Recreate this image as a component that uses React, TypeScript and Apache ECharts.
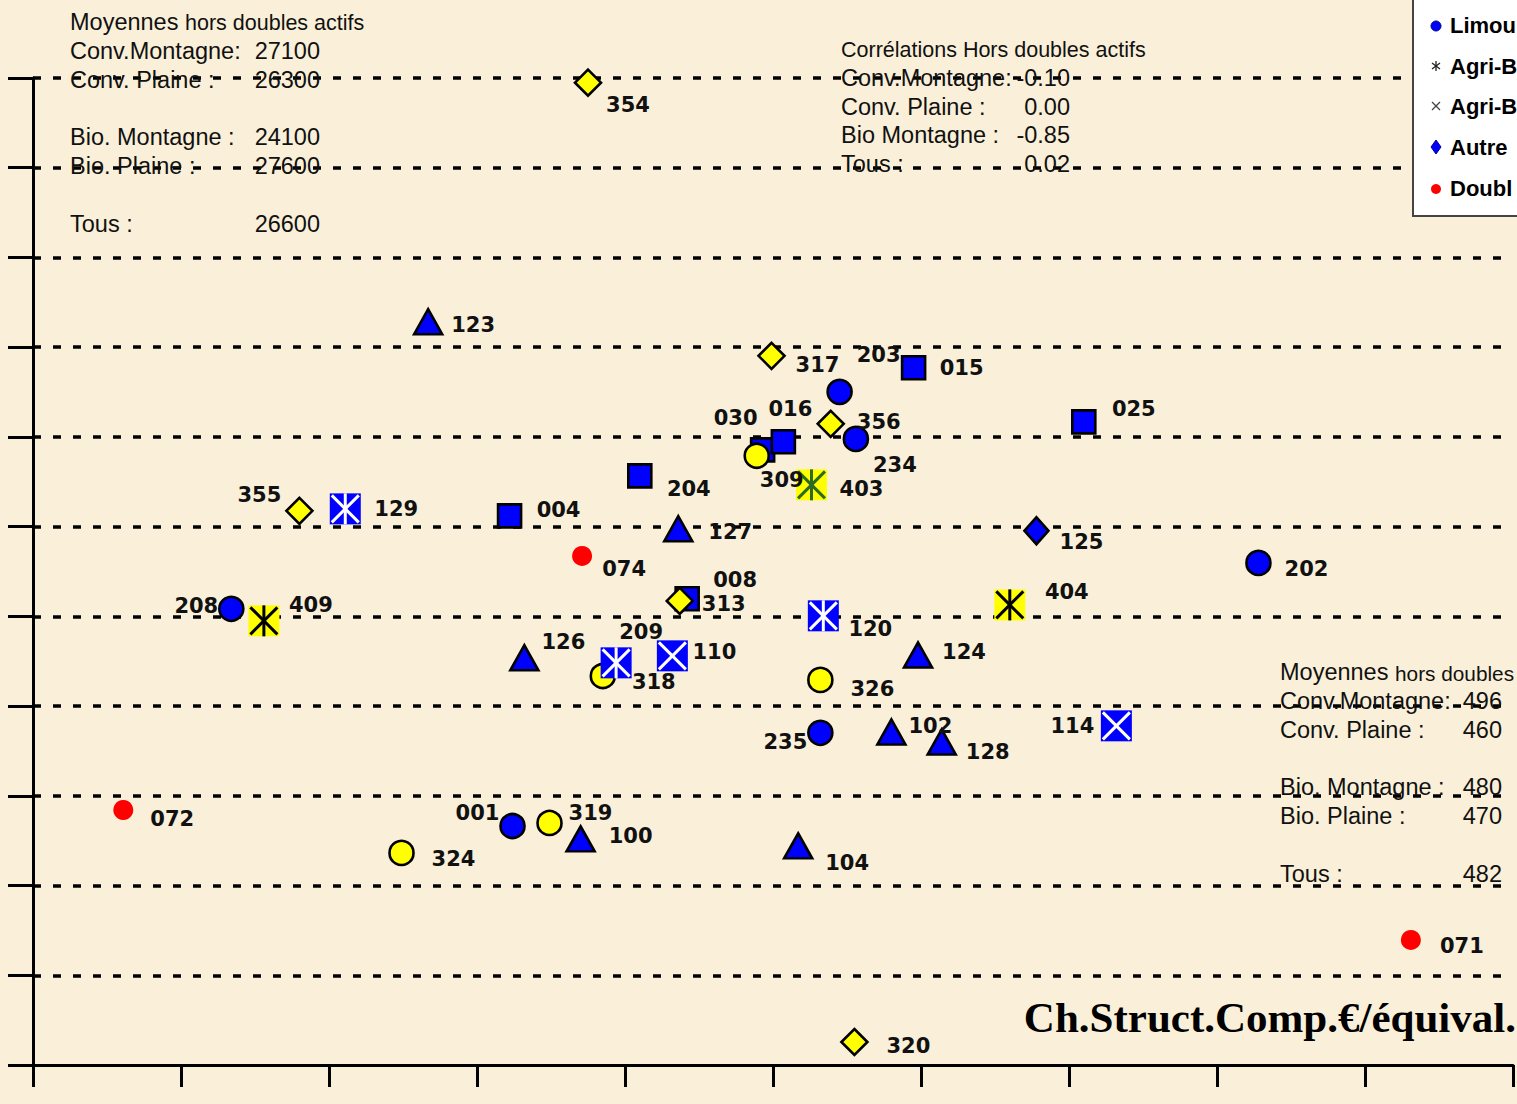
import React, { useEffect, useRef } from 'react';
import * as echarts from 'echarts';

type Pt = [number, number, string];

// x: Ch.Struct.Comp. €/équival. (0–1000), y: 0–55000
const blueSquares: Pt[] = [
  [595, 38850, '015'], [710, 35840, '025'], [493, 34280, '030'], [507, 34730, '016'],
  [410, 32830, '204'], [322, 30600, '004'], [442, 25980, '008'],
];
const yellowDiamonds: Pt[] = [
  [375, 54740, '354'], [499, 39520, '317'], [539, 35730, '356'], [437, 25860, '313'],
  [180, 30880, '355'], [555, 1280, '320'],
];
const blueCircles: Pt[] = [
  [545, 37510, '203'], [556, 34890, '234'], [828, 27980, '202'], [134, 25420, '208'],
  [532, 18510, '235'], [324, 13320, '001'],
];
const yellowCircles: Pt[] = [
  [489, 33950, '309'], [532, 21460, '326'], [385, 21680, '318'], [349, 13490, '319'],
  [249, 11820, '324'],
];
const blueTriangles: Pt[] = [
  [267, 41420, '123'], [436, 29880, '127'], [332, 22690, '126'], [598, 22850, '124'],
  [580, 18560, '102'], [614, 18000, '128'], [370, 12600, '100'], [517, 12210, '104'],
];
const blueDiamonds: Pt[] = [[678, 29770, '125']];
const yellowStarsBlack: Pt[] = [[156, 24750, '409'], [660, 25640, '404']];
const yellowStarsGreen: Pt[] = [[526, 32330, '403']];
const blueStars: Pt[] = [[211, 30990, '129'], [394, 22410, '209'], [534, 25030, '120']];
const blueCrosses: Pt[] = [[432, 22800, '110'], [732, 18900, '114']];
const doublesActifs: Pt[] = [[371, 28370, '074'], [61, 14210, '072'], [931, 6970, '071']];

// label placement (pixel offset of label centre from its point)
const labelOffsets: Record<string, [number, number]> = {
  '354': [40, 22], '123': [45, 3], '317': [46, 9], '203': [39, -37], '015': [48, 0],
  '025': [50, -13], '030': [-27, -32], '016': [7, -33], '356': [48, -2], '234': [39, 26],
  '309': [25, 24], '403': [50, 4], '204': [49, 13], '004': [49, -6], '129': [51, 0],
  '355': [-40, -16], '127': [52, 3], '125': [45, 11], '074': [42, 13], '202': [48, 6],
  '008': [48, -19], '313': [44, 3], '208': [-35, -3], '409': [47, -16], '404': [57, -13],
  '120': [47, 13], '209': [25, -31], '318': [51, 6], '110': [42, -4], '126': [39, -16],
  '124': [46, -3], '326': [52, 9], '235': [-35, 9], '102': [39, -6], '128': [46, 10],
  '114': [-44, 0], '072': [49, 9], '001': [-35, -13], '319': [41, -10], '100': [50, -3],
  '324': [52, 6], '104': [49, 17], '071': [51, 6], '320': [54, 4],
};

const leftMeansTitle = ['Moyennes', 'hors doubles actifs'];
const leftMeans: [string, string][] = [
  ['Conv.Montagne:', '27100'], ['Conv. Plaine :', '26300'], ['', ''],
  ['Bio. Montagne :', '24100'], ['Bio. Plaine :', '27600'], ['', ''], ['Tous :', '26600'],
];
const corrTitle = 'Corrélations Hors doubles actifs';
const corrRows: [string, string][] = [
  ['Conv.Montagne:', '-0.10'], ['Conv. Plaine :', '0.00'], ['Bio Montagne :', '-0.85'], ['Tous :', '0.02'],
];
const rightMeansTitle = ['Moyennes', 'hors doubles'];
const rightMeans: [string, string][] = [
  ['Conv.Montagne:', '496'], ['Conv. Plaine :', '460'], ['', ''],
  ['Bio. Montagne :', '480'], ['Bio. Plaine :', '470'], ['', ''], ['Tous :', '482'],
];
const legendItems = ['Limou', 'Agri-B', 'Agri-B', 'Autre', 'Doubl'];
const xTitle = 'Ch.Struct.Comp.€/équival.';

const FONT = "'Liberation Sans', Arial, Helvetica, sans-serif";
const BLUE = '#0000FF';
const YELLOW = '#FFFF00';
const RED = '#FF0000';
const INK = '#111111';

function txt(x: number, y: number, text: string, size: number, align = 'left', weight = 'normal', family = FONT, fill = INK, z = 10) {
  return {
    type: 'text', x, y, z,
    style: {
      text, fill, font: `${weight} ${size}px ${family}`,
      align, textAlign: align, verticalAlign: 'middle', textVerticalAlign: 'middle',
    },
  };
}

function toData(arr: Pt[]) {
  return arr.map((p) => ({ value: [p[0], p[1]], name: p[2] }));
}

function scatter(name: string, arr: Pt[], symbol: string, size: any, color: string, border: boolean) {
  return {
    type: 'scatter', name, data: toData(arr), symbol, symbolSize: size,
    itemStyle: { color, opacity: 1, borderColor: '#000', borderWidth: border ? 2.6 : 0 },
    emphasis: { disabled: true }, z: 2,
  };
}

function starSeries(name: string, arr: Pt[], fill: string, stroke: string, vertical: boolean) {
  return {
    type: 'custom', name, data: toData(arr), z: 3,
    renderItem: (_params: any, api: any) => {
      const p = api.coord([api.value(0), api.value(1)]);
      const h = 15.5;
      const d = 2;
      const ls = { stroke, lineWidth: 3 };
      const children: any[] = [
        { type: 'rect', shape: { x: p[0] - h, y: p[1] - h, width: 2 * h, height: 2 * h }, style: { fill } },
        { type: 'line', shape: { x1: p[0] - h + d, y1: p[1] - h + d, x2: p[0] + h - d, y2: p[1] + h - d }, style: ls },
        { type: 'line', shape: { x1: p[0] + h - d, y1: p[1] - h + d, x2: p[0] - h + d, y2: p[1] + h - d }, style: ls },
      ];
      if (vertical) {
        children.push({ type: 'line', shape: { x1: p[0], y1: p[1] - h, x2: p[0], y2: p[1] + h }, style: ls });
      }
      return { type: 'group', children };
    },
  };
}

const allPoints: Pt[] = [
  ...blueSquares, ...yellowDiamonds, ...blueCircles, ...yellowCircles, ...blueTriangles,
  ...blueDiamonds, ...yellowStarsBlack, ...yellowStarsGreen, ...blueStars, ...blueCrosses, ...doublesActifs,
];

function buildGraphics() {
  const els: any[] = [];
  // upper-left means
  els.push(txt(70, 22, leftMeansTitle[0], 23.5));
  els.push(txt(185, 23, leftMeansTitle[1], 21.5));
  leftMeans.forEach((r, i) => {
    if (!r[0]) return;
    const y = 51 + i * 28.8;
    els.push(txt(70, y, r[0], 23.5));
    els.push(txt(320, y, r[1], 23.5, 'right'));
  });
  // correlations
  els.push(txt(841, 50, corrTitle, 21.5));
  corrRows.forEach((r, i) => {
    const y = 78 + i * 28.7;
    els.push(txt(841, y, r[0], 23.5));
    els.push(txt(1070, y, r[1], 23.5, 'right'));
  });
  // lower-right means
  els.push(txt(1280, 672, rightMeansTitle[0], 23.5));
  els.push(txt(1395, 673, rightMeansTitle[1], 20.8));
  rightMeans.forEach((r, i) => {
    if (!r[0]) return;
    const y = 701 + i * 28.8;
    els.push(txt(1280, y, r[0], 23.5));
    els.push(txt(1502, y, r[1], 23.5, 'right'));
  });
  // x-axis caption
  els.push(txt(1516, 1017, xTitle, 43, 'right', 'bold', "'Liberation Serif', 'Times New Roman', serif", '#000'));
  // legend box
  const lx = 1436;
  const rowY = [25, 66, 106, 147, 188];
  const Z = 30;
  els.push({ type: 'rect', z: Z, shape: { x: 1413, y: -4, width: 130, height: 220 }, style: { fill: '#FFFFFF', stroke: '#444', lineWidth: 2 } });
  els.push({ type: 'circle', z: Z + 1, shape: { cx: lx, cy: rowY[0] + 1, r: 5 }, style: { fill: BLUE, stroke: '#00008B', lineWidth: 1 } });
  els.push({ type: 'line', z: Z + 1, shape: { x1: lx, y1: rowY[1] - 5, x2: lx, y2: rowY[1] + 5 }, style: { stroke: '#222', lineWidth: 1.3 } });
  els.push({ type: 'line', z: Z + 1, shape: { x1: lx - 4, y1: rowY[1] - 3, x2: lx + 4, y2: rowY[1] + 3 }, style: { stroke: '#222', lineWidth: 1.3 } });
  els.push({ type: 'line', z: Z + 1, shape: { x1: lx + 4, y1: rowY[1] - 3, x2: lx - 4, y2: rowY[1] + 3 }, style: { stroke: '#222', lineWidth: 1.3 } });
  els.push({ type: 'line', z: Z + 1, shape: { x1: lx - 4, y1: rowY[2] - 4, x2: lx + 4, y2: rowY[2] + 4 }, style: { stroke: '#444', lineWidth: 1.2 } });
  els.push({ type: 'line', z: Z + 1, shape: { x1: lx + 4, y1: rowY[2] - 4, x2: lx - 4, y2: rowY[2] + 4 }, style: { stroke: '#444', lineWidth: 1.2 } });
  els.push({ type: 'polygon', z: Z + 1, shape: { points: [[lx, rowY[3] - 7], [lx + 5, rowY[3]], [lx, rowY[3] + 7], [lx - 5, rowY[3]]] }, style: { fill: BLUE, stroke: '#00008B', lineWidth: 1 } });
  els.push({ type: 'circle', z: Z + 1, shape: { cx: lx, cy: rowY[4] + 1, r: 5 }, style: { fill: RED } });
  legendItems.forEach((t, i) => {
    els.push(txt(1450, rowY[i], t, 22, 'left', 'bold', FONT, '#000', Z + 1));
  });
  return els;
}

export default function App() {
  const ref = useRef<HTMLDivElement>(null);
  useEffect(() => {
    if (!ref.current) return;
    const chart = echarts.init(ref.current, null, { renderer: 'svg' });
    const option: any = {
      animation: false,
      backgroundColor: '#FAF0D9',
      grid: { left: 33, right: 4, top: 78, bottom: 39, containLabel: false, outerBoundsMode: 'none' },
      xAxis: {
        type: 'value', min: 0, max: 1000, interval: 100,
        axisLine: { show: true, onZero: false, lineStyle: { color: '#000', width: 3 } },
        axisTick: { show: true, length: 22, lineStyle: { color: '#000', width: 3 } },
        axisLabel: { show: false },
        splitLine: { show: false },
      },
      yAxis: {
        type: 'value', min: 0, max: 55000, interval: 5000,
        axisLine: { show: true, onZero: false, lineStyle: { color: '#000', width: 3 } },
        axisTick: { show: true, length: 25, lineStyle: { color: '#000', width: 3 } },
        axisLabel: { show: false },
        splitLine: { show: true, showMinLine: false, lineStyle: { color: '#000', width: 3.5, type: [8, 12] } },
      },
      tooltip: { show: false },
      series: [
        scatter('Conv. carré', blueSquares, 'rect', 23, BLUE, true),
        scatter('Losange jaune', yellowDiamonds, 'diamond', 26, YELLOW, true),
        scatter('Limousin', blueCircles, 'circle', 24, BLUE, true),
        scatter('Cercle jaune', yellowCircles, 'circle', 24, YELLOW, true),
        scatter('Triangle', blueTriangles, 'triangle', [28, 25], BLUE, true),
        scatter('Autre', blueDiamonds, 'diamond', [24, 27], BLUE, true),
        starSeries('Agri-Bio jaune', yellowStarsBlack, YELLOW, '#000', true),
        starSeries('Agri-Bio vert', yellowStarsGreen, YELLOW, '#2E6B22', true),
        starSeries('Agri-Bio *', blueStars, BLUE, '#FFFFFF', true),
        starSeries('Agri-Bio x', blueCrosses, BLUE, '#FFFFFF', false),
        scatter('Doubles actifs', doublesActifs, 'circle', 20, RED, false),
        {
          type: 'custom', name: 'labels', z: 5,
          data: allPoints.map((p) => ({ value: [p[0], p[1]], name: p[2] })),
          renderItem: (params: any, api: any) => {
            const p = api.coord([api.value(0), api.value(1)]);
            const id = allPoints[params.dataIndex][2];
            const off = labelOffsets[id] || [45, 0];
            return {
              type: 'text', x: p[0] + off[0], y: p[1] + off[1],
              style: {
                text: id, fill: INK, font: "bold 21px 'DejaVu Sans', sans-serif",
                align: 'center', textAlign: 'center', verticalAlign: 'middle', textVerticalAlign: 'middle',
              },
            };
          },
        },
      ],
      graphic: buildGraphics(),
    };
    chart.setOption(option);
    return () => chart.dispose();
  }, []);
  return <div ref={ref} style={{ position: 'absolute', left: 0, top: 0, width: 1517, height: 1104 }} />;
}
